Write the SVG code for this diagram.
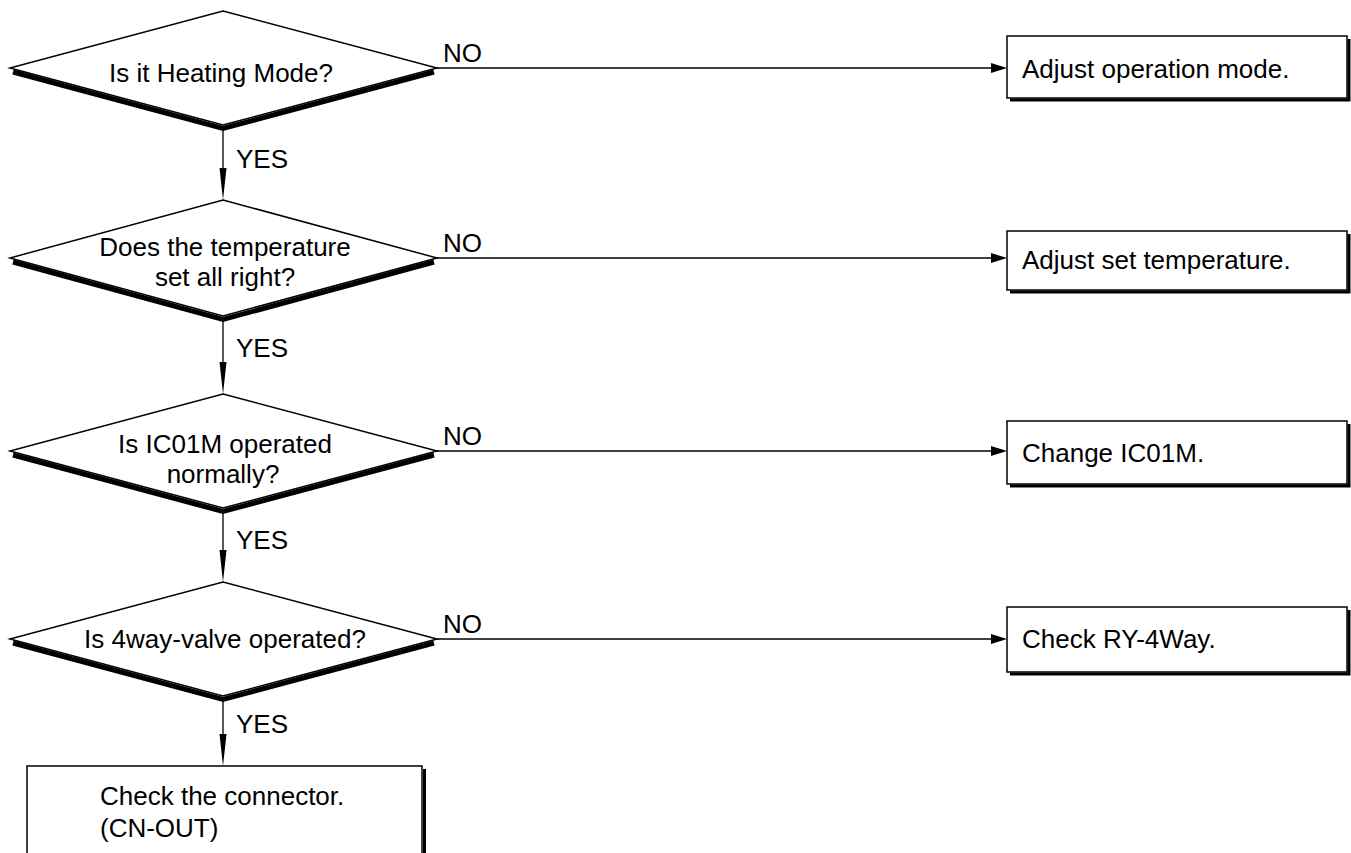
<svg xmlns="http://www.w3.org/2000/svg" width="1351" height="853" viewBox="0 0 1351 853">
<style>
text{font-family:"Liberation Sans",Arial,sans-serif;font-size:26px;fill:#000}
.c{text-anchor:middle}
.d{fill:#fff;stroke:#000;stroke-width:1.5;stroke-linejoin:miter}
.ds{fill:none;stroke:#000;stroke-width:5}
.b{fill:#fff;stroke:#000;stroke-width:1.5}
.bs{fill:none;stroke:#000;stroke-width:3}
.ln{fill:none;stroke:#000;stroke-width:1.3}
.ah{fill:#000}
</style>
<rect width="1351" height="853" fill="#fff"/>
<g id="connectors">
<line class="ln" x1="437" y1="68" x2="995" y2="68"/>
<polygon class="ah" points="991,63 1007,68 991,73"/>
<line class="ln" x1="437" y1="258" x2="995" y2="258"/>
<polygon class="ah" points="991,253 1007,258 991,263"/>
<line class="ln" x1="437" y1="451" x2="995" y2="451"/>
<polygon class="ah" points="991,446 1007,451 991,456"/>
<line class="ln" x1="437" y1="639" x2="995" y2="639"/>
<polygon class="ah" points="991,634 1007,639 991,644"/>
<line class="ln" x1="223" y1="130" x2="223" y2="175"/>
<polygon class="ah" points="219.5,168 223,200 226.5,168"/>
<line class="ln" x1="223" y1="321" x2="223" y2="370"/>
<polygon class="ah" points="219.5,362 223,394 226.5,362"/>
<line class="ln" x1="223" y1="513" x2="223" y2="558"/>
<polygon class="ah" points="219.5,550 223,582 226.5,550"/>
<line class="ln" x1="223" y1="701" x2="223" y2="742"/>
<polygon class="ah" points="219.5,734 223,766 226.5,734"/>
<text x="443" y="62">NO</text>
<text x="443" y="252">NO</text>
<text x="443" y="445">NO</text>
<text x="443" y="633">NO</text>
<text x="236" y="168">YES</text>
<text x="236" y="357">YES</text>
<text x="236" y="549">YES</text>
<text x="236" y="733">YES</text>
</g>
<g id="d1">
<polyline class="ds" points="13,72 223,128.5 434,72"/>
<polygon class="d" points="223,11 437,68 223,125 10,68"/>
<text class="c" x="221" y="82">Is it Heating Mode?</text>
</g>
<g id="d2">
<polyline class="ds" points="13,262 223,319.5 434,262"/>
<polygon class="d" points="223,200 437,258 223,316 10,258"/>
<text class="c" x="225" y="256">Does the temperature</text>
<text class="c" x="225" y="286">set all right?</text>
</g>
<g id="d3">
<polyline class="ds" points="13,455 223,511.5 434,455"/>
<polygon class="d" points="223,394 437,451 223,508 10,451"/>
<text class="c" x="225" y="453">Is IC01M operated</text>
<text class="c" x="223" y="483">normally?</text>
</g>
<g id="d4">
<polyline class="ds" points="13,643 223,699.5 434,643"/>
<polygon class="d" points="223,582 437,639 223,696 10,639"/>
<text class="c" x="225" y="648">Is 4way-valve operated?</text>
</g>
<g id="b1">
<polyline class="bs" points="1010,100 1349,100 1349,39"/>
<rect class="b" x="1007" y="36" width="340" height="62"/>
<text x="1022" y="78">Adjust operation mode.</text>
</g>
<g id="b2">
<polyline class="bs" points="1010,292 1349,292 1349,234"/>
<rect class="b" x="1007" y="231" width="340" height="59"/>
<text x="1022" y="269">Adjust set temperature.</text>
</g>
<g id="b3">
<polyline class="bs" points="1010,486 1349,486 1349,424"/>
<rect class="b" x="1007" y="421" width="340" height="63"/>
<text x="1022" y="462">Change IC01M.</text>
</g>
<g id="b4">
<polyline class="bs" points="1010,674 1349,674 1349,610"/>
<rect class="b" x="1007" y="607" width="340" height="65"/>
<text x="1022" y="648">Check RY-4Way.</text>
</g>
<g id="b5">
<polyline class="bs" points="424.5,769 424.5,860"/>
<rect class="b" x="27" y="766" width="395" height="100"/>
<text x="100" y="805">Check the connector.</text>
<text x="100" y="837">(CN-OUT)</text>
</g>
</svg>
